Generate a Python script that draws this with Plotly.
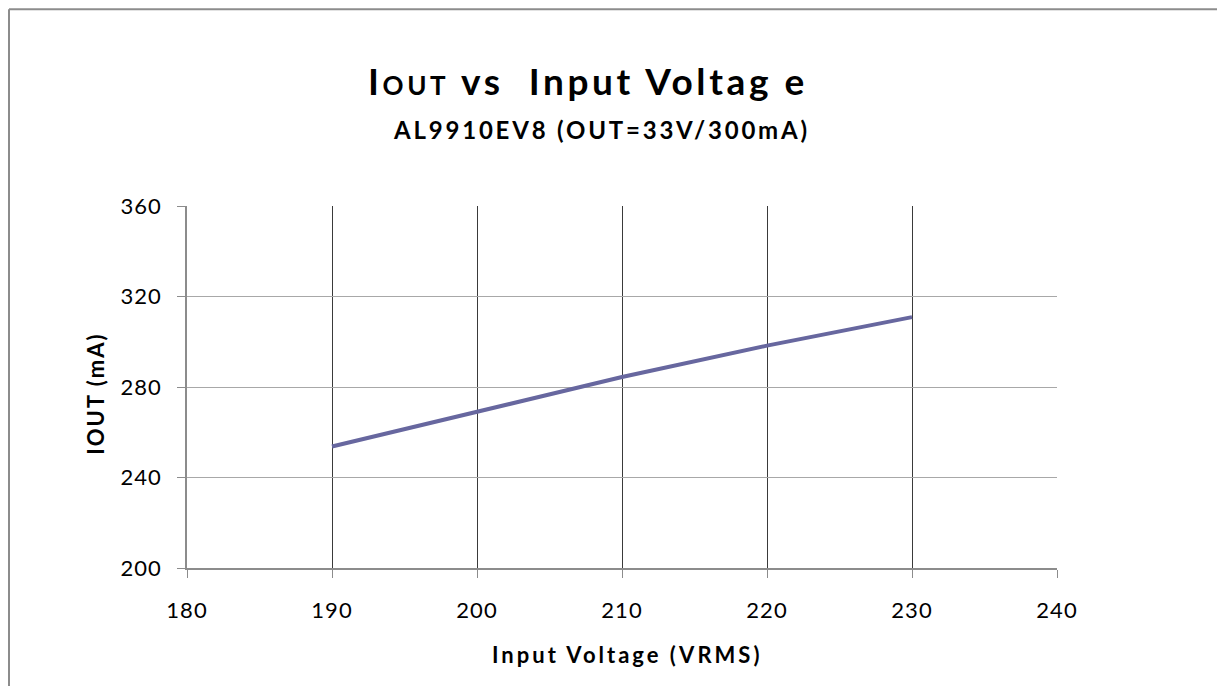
import plotly.graph_objects as go

voltage = [190, 200, 210, 220, 230]
iout_ma = [253.7, 269.2, 284.4, 298.3, 310.9]

x_ticks = [180, 190, 200, 210, 220, 230, 240]
y_ticks = [200, 240, 280, 320, 360]

# page body has an 8px margin; figure sized to fit inside it
OFF = 8
W, H = 1209, 678
L, T = 187 - OFF, 206 - OFF
R_EDGE, B_EDGE = 1057 - OFF, 568.5 - OFF
PW, PH = R_EDGE - L, B_EDGE - T
FONT = "Lato, 'Open Sans', sans-serif"


def px(xs):  # screenshot x -> paper
    return (xs - OFF - L) / PW


def py(ys):  # screenshot y -> paper
    return (B_EDGE - (ys - OFF)) / PH


def spaced(t, sp):
    return f"<span style='letter-spacing:{sp}px'>{t}</span>"


fig = go.Figure()
fig.add_trace(go.Scatter(
    x=voltage, y=iout_ma, mode="lines",
    line=dict(color="#67679F", width=4),
    showlegend=False, hoverinfo="x+y",
))

fig.update_layout(
    width=W, height=H,
    paper_bgcolor="white", plot_bgcolor="white",
    margin=dict(l=L, r=W - R_EDGE, t=T, b=H - B_EDGE, pad=0),
    font=dict(family=FONT, color="black"),
    xaxis=dict(
        range=[180, 240], tickvals=x_ticks, ticktext=[spaced(str(v), 1) for v in x_ticks],
        showgrid=True, gridcolor="#3A3A3A", gridwidth=1,
        showline=True, linecolor="#8C8C8C", linewidth=1.5,
        ticks="outside", ticklen=8, tickcolor="#8C8C8C", tickwidth=1,
        tickfont=dict(size=22, family=FONT), zeroline=False,
        ticklabelstandoff=14,
    ),
    yaxis=dict(
        range=[200, 360], tickvals=y_ticks, ticktext=[spaced(str(v), 1) for v in y_ticks],
        showgrid=True, gridcolor="#A8A8A8", gridwidth=1,
        showline=True, linecolor="#8C8C8C", linewidth=1.5,
        ticks="outside", ticklen=8, tickcolor="#8C8C8C", tickwidth=1,
        tickfont=dict(size=22, family=FONT), zeroline=False,
        ticklabelstandoff=11,
    ),
    annotations=[
        dict(text="<b>" + spaced("I<span style='font-size:26px'>OUT</span> vs  Input Voltag e", 3.6) + "</b>",
             x=px(588), y=py(80), xref="paper", yref="paper",
             xanchor="center", yanchor="middle", showarrow=False,
             font=dict(size=37, family=FONT, color="black")),
        dict(text="<b>" + spaced("AL9910EV8 (OUT=33V/300mA)", 2.8) + "</b>",
             x=px(601), y=py(129), xref="paper", yref="paper",
             xanchor="center", yanchor="middle", showarrow=False,
             font=dict(size=24, family=FONT, color="black")),
        dict(text="<b>" + spaced("Input Voltage (VRMS)", 3) + "</b>",
             x=px(627), y=py(655), xref="paper", yref="paper",
             xanchor="center", yanchor="middle", showarrow=False,
             font=dict(size=22, family=FONT, color="black")),
        dict(text="<b>" + spaced("IOUT (mA)", 2) + "</b>",
             x=px(96), y=py(394), xref="paper", yref="paper",
             xanchor="center", yanchor="middle", showarrow=False, textangle=-90,
             font=dict(size=22, family=FONT, color="black")),
    ],
    shapes=[
        dict(type="line", xref="paper", yref="paper",
             x0=px(OFF + 1), x1=px(OFF + W + 20), y0=py(OFF + 1), y1=py(OFF + 1),
             line=dict(color="#8C8C8C", width=2), layer="below"),
        dict(type="line", xref="paper", yref="paper",
             x0=px(OFF + 1), x1=px(OFF + 1), y0=py(OFF + 1), y1=py(OFF + H + 20),
             line=dict(color="#8C8C8C", width=2), layer="below"),
    ],
)

fig.write_html("out.html")
